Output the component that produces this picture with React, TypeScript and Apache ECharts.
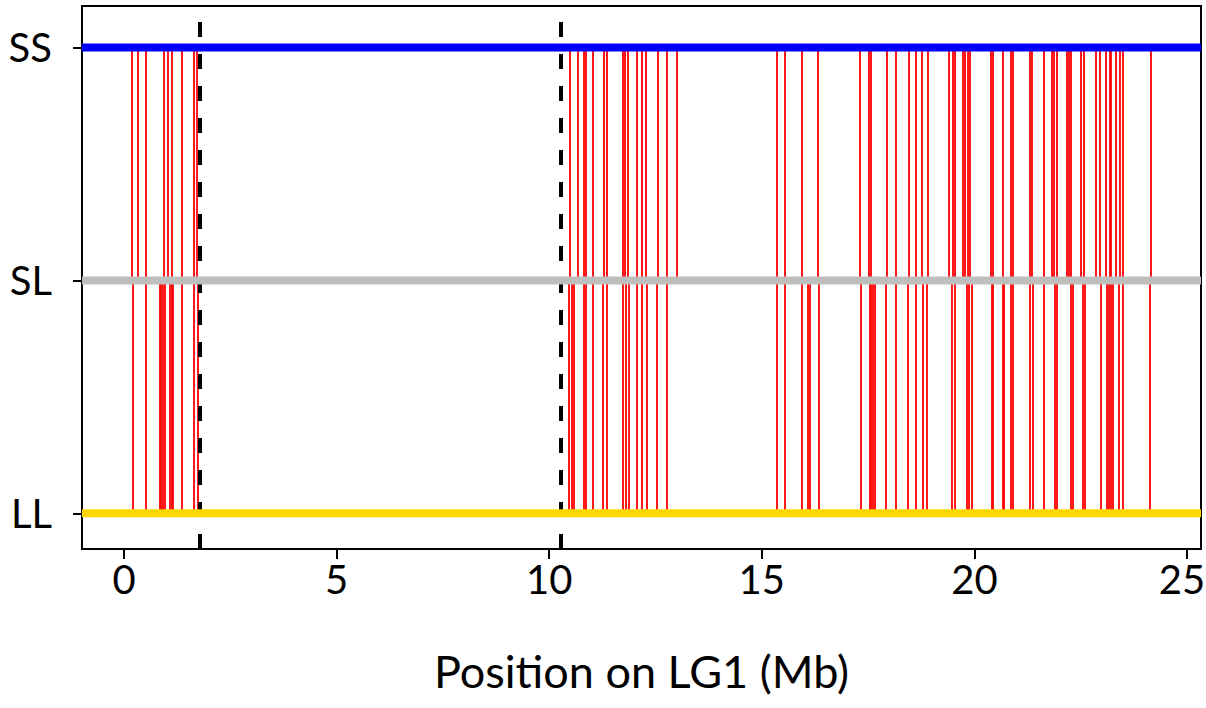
import React, { useEffect, useRef } from "react";
import * as echarts from "echarts";

// Genotype rows (y value -> label)
const rowLabels = ["LL", "SL", "SS"];
const rowValues = [0, 1, 2];
const rowColors = ["#FFD700", "#BEBEBE", "#0000FF"];

// X axis ticks
const xTicks = [0, 5, 10, 15, 20, 25];
const xMin = -0.99;
const xMax = 25.33;

// Positions (Mb) of markers drawn between SS and SL
const upperPos = [
  0.19, 0.33, 0.52, 0.94, 1.03, 1.11, 1.36, 1.65, 1.72,
  10.49, 10.67, 10.82, 10.87, 11.02, 11.29, 11.35, 11.73, 11.78, 11.85, 12.07, 12.17, 12.28, 12.56, 12.77, 12.99,
  15.35, 15.53, 15.93, 16.31, 17.31, 17.52, 17.56, 17.93, 18.14, 18.45, 18.63, 18.77, 18.91,
  19.40, 19.49, 19.53, 19.72, 19.78, 19.85, 19.90, 20.39, 20.44, 20.67, 20.86, 20.90, 21.31, 21.35, 21.63,
  21.82, 21.86, 21.94, 22.18, 22.21, 22.27, 22.51, 22.57, 22.86, 22.95, 23.09, 23.18, 23.21, 23.32, 23.41,
  23.48, 24.14,
];

// Positions (Mb) of markers drawn between SL and LL
const lowerPos = [
  0.2, 0.5, 0.83, 0.87, 0.92, 0.96, 1.07, 1.11, 1.14, 1.36, 1.65, 1.74,
  10.47, 10.52, 10.58, 10.81, 10.85, 11.02, 11.27, 11.35, 11.72, 11.80, 11.88, 12.05, 12.17, 12.29, 12.54, 12.77,
  15.36, 15.53, 15.94, 16.08, 16.12, 16.33, 17.32, 17.53, 17.57, 17.61, 17.66, 17.92, 18.14, 18.43, 18.63,
  18.78, 18.88,
  19.47, 19.54, 19.82, 19.87, 19.94, 20.41, 20.44, 20.66, 20.70, 20.86, 20.90, 21.31, 21.37, 21.62, 21.90,
  21.94, 22.27, 22.31, 22.55, 22.60, 22.97, 23.11, 23.16, 23.20, 23.25, 23.39, 23.48, 24.13,
];

// Dashed boundary positions (Mb)
const boundaries = [1.79, 10.27];

const FONT = "Lato, 'Open Sans', sans-serif";

export default function App() {
  const ref = useRef<HTMLDivElement>(null);

  useEffect(() => {
    if (!ref.current) return;
    const chart = echarts.init(ref.current, null, { renderer: "svg" });

    const rowSeries = rowValues.map((v, i) => ({
      type: "line",
      name: rowLabels[i],
      data: [
        [xMin, v],
        [xMax, v],
      ],
      showSymbol: false,
      symbol: "none",
      lineStyle: { color: rowColors[i], width: 8 },
      z: 5,
      silent: true,
    }));

    const lastTick = xTicks[xTicks.length - 1];

    chart.setOption({
      animation: false,
      backgroundColor: "#ffffff",
      grid: {
        left: 82,
        right: 5,
        top: 6,
        bottom: 159,
        show: true,
        borderColor: "#000000",
        borderWidth: 2,
        backgroundColor: "transparent",
        containLabel: false,
        outerBoundsMode: "none",
      },
      xAxis: {
        type: "value",
        min: xMin,
        max: xMax,
        splitLine: { show: false },
        axisLine: { show: false, onZero: false },
        axisTick: {
          show: true,
          inside: false,
          customValues: xTicks,
          length: 10,
          lineStyle: { color: "#000", width: 2 },
        },
        axisLabel: {
          customValues: xTicks,
          fontFamily: FONT,
          fontSize: 40,
          color: "#000",
          margin: 10,
          formatter: (v: number) =>
            v === lastTick ? `{r|${v}}` : `${v}`,
          rich: {
            r: {
              fontFamily: FONT,
              fontSize: 40,
              color: "#000",
              padding: [0, 10, 0, 0],
            },
          },
        },
        name: "Position on LG1 (Mb)",
        nameLocation: "middle",
        nameGap: 99,
        nameTextStyle: { fontFamily: FONT, fontSize: 45, color: "#000" },
      },
      yAxis: {
        type: "value",
        min: -0.153,
        max: 2.178,
        splitLine: { show: false },
        axisLine: { show: false, onZero: false },
        axisTick: {
          show: true,
          inside: false,
          customValues: rowValues,
          length: 9,
          lineStyle: { color: "#000", width: 2 },
        },
        axisLabel: {
          customValues: rowValues,
          formatter: (v: number) => rowLabels[Math.round(v)] ?? "",
          fontFamily: FONT,
          fontSize: 40,
          color: "#000",
          margin: 30,
        },
      },
      series: [
        {
          type: "lines",
          coordinateSystem: "cartesian2d",
          data: upperPos.map((x) => ({
            coords: [
              [x, 2],
              [x, 1],
            ],
          })),
          lineStyle: { color: "#FF0000", width: 1.8, opacity: 1 },
          z: 3,
          silent: true,
        },
        {
          type: "lines",
          coordinateSystem: "cartesian2d",
          data: lowerPos.map((x) => ({
            coords: [
              [x, 1],
              [x, 0],
            ],
          })),
          lineStyle: { color: "#FF0000", width: 1.8, opacity: 1 },
          z: 3,
          silent: true,
        },
        ...rowSeries,
        {
          type: "line",
          data: [],
          z: 6,
          markLine: {
            silent: true,
            symbol: "none",
            label: { show: false },
            lineStyle: {
              color: "#000000",
              type: [15, 17],
              width: 4,
            },
            data: boundaries.map((b) => ({ xAxis: b })),
          },
        },
      ],
    });

    return () => chart.dispose();
  }, []);

  return (
    <div
      ref={ref}
      style={{
        position: "fixed",
        left: 0,
        top: 0,
        width: 1206,
        height: 708,
        background: "#fff",
      }}
    />
  );
}
